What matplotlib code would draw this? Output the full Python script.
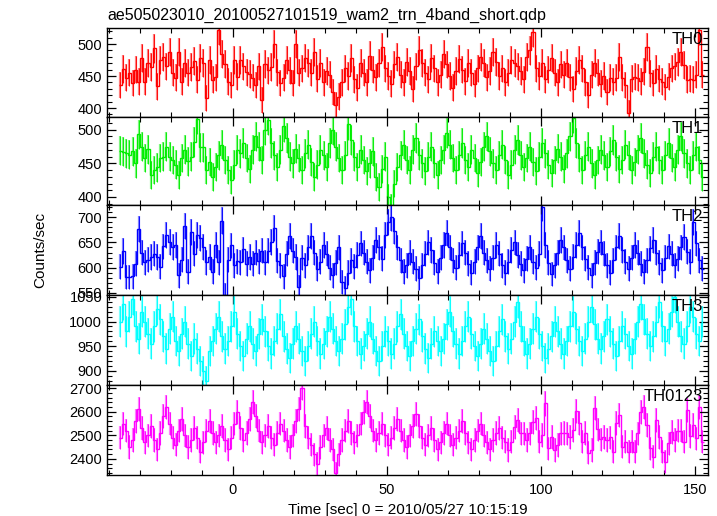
import numpy as np
import matplotlib
matplotlib.use("Agg")
import matplotlib.pyplot as plt
from matplotlib.ticker import MultipleLocator

plt.rcParams['font.family'] = ['Liberation Sans', 'DejaVu Sans']

title = "ae505023010_20100527101519_wam2_trn_4band_short.qdp"
xlabel = "Time [sec] 0 = 2010/05/27 10:15:19"
ylabel = "Counts/sec"
panel_names = ["TH0", "TH1", "TH2", "TH3", "TH0123"]
colors = ["#ff0000", "#00ee00", "#0000ff", "#00ffff", "#ff00ff"]

t_start = -36.5
bin_width = 1.0

th0 = [
    436, 461, 447, 455, 439, 460, 441, 478, 441, 470,
    464, 493, 434, 475, 480, 465, 488, 455, 447, 488,
    441, 470, 455, 464, 473, 444, 478, 470, 415, 475,
    444, 448, 522, 485, 469, 441, 436, 475, 449, 475,
    465, 456, 453, 447, 436, 465, 413, 469, 459, 464,
    500, 456, 439, 447, 475, 459, 439, 500, 455, 462,
    478, 470, 455, 488, 446, 470, 440, 458, 452, 425,
    405, 418, 440, 462, 450, 478, 445, 432, 470, 455,
    440, 482, 460, 448, 470, 495, 462, 450, 438, 468,
    480, 452, 440, 472, 458, 430, 465, 490, 470, 455,
    445, 478, 462, 440, 452, 485, 468, 450, 432, 458,
    476, 460, 442, 470, 455, 438, 462, 480, 470, 448,
    458, 488, 472, 450, 462, 440, 455, 475, 470, 465,
    458, 445, 480, 490, 518, 462, 450, 470, 445, 460,
    478, 455, 440, 468, 452, 470, 448, 430, 458, 475,
    462, 440, 420, 452, 470, 455, 438, 450,
    425, 447, 441, 447, 479, 447, 436, 392, 446, 449,
    447, 442, 457, 495, 454, 439, 461, 446, 441, 433,
    449, 462, 465, 472, 487, 467, 444, 446, 444, 452,
    522, 452,
]

th1 = [
    469, 467, 465, 463, 468, 450, 493, 475, 458, 471,
    433, 440, 444, 458, 460, 475, 460, 455, 448, 433,
    458, 470, 453, 460, 482, 516, 474, 474, 440,
    452, 430, 445, 462, 478, 455, 440, 425, 448, 470,
    465, 480, 458, 442, 470, 490, 475, 455, 500, 515,
    480, 462, 445, 470, 505, 488, 460, 450, 472, 458,
    440, 465, 478, 452, 430, 448, 470, 462, 445, 480,
    500, 475, 458, 440, 462, 508, 485, 460, 445, 470,
    455, 438, 450, 468, 430, 415, 442, 460, 400, 385,
    420, 445, 462, 478, 455, 440, 470, 488, 462, 450,
    438, 460, 475, 450, 432, 455, 470, 495, 478, 458,
    440, 462, 480, 455, 445, 470, 458, 436, 452, 475,
    490, 468, 450, 440, 462, 478, 455, 432, 448, 470,
    485, 462, 445, 458, 475, 452, 438, 460, 480, 465,
    448, 435, 455, 472, 460, 442, 465, 490, 518, 480,
    458, 440, 462, 475, 450, 432, 455, 470, 462, 445,
    468, 485, 460, 442, 455, 478, 462, 440, 452, 470,
    488, 465, 448, 435, 460, 475, 455, 440, 462, 480,
    458, 445, 470, 490, 465, 450, 440, 462, 475, 455,
    430,
]

th2 = [
    602, 633, 582, 582, 583, 608, 677, 630, 611, 616,
    621, 628, 621, 602, 642, 664, 651, 641, 645,
    585, 616, 683, 592, 670, 628, 664, 659, 641, 611,
    621, 592, 645, 611, 693, 546, 616, 644, 605, 613,
    611, 636, 608, 621, 608, 630, 613, 634, 611, 634,
    651, 679, 614, 605, 583, 628, 663, 634, 621, 562,
    620, 605, 640, 662, 630, 598, 612, 645, 628, 600,
    585, 610, 640, 572, 560, 590, 615, 602, 625, 648,
    630, 612, 595, 620, 655, 640, 618, 665, 690, 700,
    672, 640, 615, 592, 605, 630, 612, 598, 580, 605,
    628, 650, 635, 610, 592, 620, 645, 668, 640, 615,
    600, 625, 648, 630, 608, 590, 612, 640, 662, 630,
    615, 598, 620, 645, 628, 605, 590, 612, 635, 650,
    625, 608, 595, 618, 640, 612, 600, 628, 720, 645,
    610, 588, 605, 630, 655, 640, 615, 598, 622, 645,
    668, 640, 618, 600, 585, 610, 632, 650, 628, 605,
    590, 615, 640, 662, 635, 612, 598, 620, 645, 630,
    608, 592, 615, 638, 655, 630, 610, 595, 620, 642,
    628, 605, 618, 640, 660, 632, 612, 690, 648, 615,
    598,
]

th3 = [
    1000, 1035, 980, 1010, 1045, 990, 965, 1020, 1000, 975,
    955, 990, 1025, 1005, 970, 945, 985, 1010, 960, 940,
    975, 1000, 955, 930, 965, 945, 920, 900, 880, 940,
    960, 985, 1010, 970, 945, 960, 990, 1020, 975, 950,
    930, 965, 990, 955, 940, 975, 1005, 980, 950, 935,
    960, 985, 1015, 970, 945, 925, 955, 990, 965, 940,
    920, 950, 975, 1000, 960, 935, 955, 980, 1010, 985,
    960, 940, 965, 995, 1030, 1045, 990, 960, 935, 950,
    975, 1000, 965, 940, 920, 950, 980, 960, 935, 955,
    990, 1015, 975, 950, 930, 960, 985, 1005, 970, 945,
    925, 955, 980, 960, 940, 965, 995, 1020, 980, 955,
    935, 960, 990, 1010, 975, 950, 930, 955, 985, 965,
    940, 920, 950, 980, 1005, 970, 945, 965, 1000, 1040,
    990, 960, 935, 955, 985, 1010, 975, 950, 925, 945,
    970, 1000, 980, 955, 935, 960, 990, 1020, 985, 960,
    940, 965, 1000, 1030, 995, 965, 945, 970, 1005, 980,
    955, 930, 960, 990, 975, 950, 935, 965, 1000, 1035,
    1005, 975, 950, 970, 1000, 1040, 990, 960, 985, 1020,
    1050, 1000, 970, 955, 990, 1030, 1010, 975, 960, 1000,
]

th0123 = [
    2490, 2550, 2520, 2450, 2480, 2560, 2610, 2530, 2470, 2500,
    2540, 2480, 2440, 2510, 2580, 2620, 2550, 2490, 2460, 2520,
    2570, 2500, 2450, 2480, 2530, 2490, 2430, 2470, 2520, 2560,
    2510, 2470, 2500, 2540, 2480, 2440, 2490, 2550, 2600, 2530,
    2480, 2510, 2570, 2640, 2580, 2520, 2470, 2500, 2540, 2490,
    2460, 2510, 2550, 2520, 2480, 2450, 2500, 2560, 2610, 2700,
    2540, 2490, 2460, 2420, 2380, 2450, 2500, 2530, 2480, 2440,
    2340, 2420, 2480, 2520, 2560, 2510, 2470, 2500, 2550, 2600,
    2640, 2580, 2520, 2480, 2510, 2550, 2500, 2460, 2490, 2530,
    2570, 2520, 2480, 2450, 2500, 2540, 2590, 2540, 2490, 2460,
    2500, 2530, 2480, 2440, 2470, 2510, 2550, 2500, 2460, 2490,
    2520, 2560, 2510, 2470, 2440, 2480, 2520, 2550, 2500, 2470,
    2440, 2480, 2510, 2530, 2490,
    2473, 2438, 2473, 2536, 2565, 2508, 2508, 2480, 2508, 2557,
    2572, 2473, 2501, 2635, 2445, 2494, 2438, 2459, 2508, 2510,
    2508, 2494, 2522, 2604, 2551, 2473, 2510, 2427, 2438,
    2614, 2525, 2483, 2494, 2480, 2491, 2431, 2551, 2586, 2452,
    2473, 2431, 2473, 2431, 2508, 2597, 2621, 2543, 2445, 2410,
    2565, 2494, 2431, 2389, 2466, 2515, 2480, 2520, 2520, 2473,
    2607, 2497, 2543, 2487, 2621, 2473,
]

series = [th0, th1, th2, th3, th0123]
ylims = [(386, 525), (388, 519), (546, 724), (871, 1054), (2332, 2713)]
ymajor = [50, 50, 50, 50, 100]
yminor = [10, 10, 10, 10, 20]
xlim = (-40.8, 154.3)

W, H = 717, 516
fig = plt.figure(figsize=(W / 100, H / 100), dpi=100)
edges_px = [28, 117, 205, 295, 385, 475]
left_px, right_px = 107, 708

axes = []
for i, (vals, col) in enumerate(zip(series, colors)):
    top, bot = edges_px[i], edges_px[i + 1]
    ax = fig.add_axes([left_px / W, 1 - bot / H, (right_px - left_px) / W, (bot - top) / H])
    axes.append(ax)
    v = np.asarray(vals, dtype=float)
    t = t_start + bin_width * np.arange(len(v))
    err = np.sqrt(v * bin_width) / bin_width
    ax.vlines(t, v - err, v + err, color=col, lw=1.6, alpha=0.5)
    ax.vlines(t, v - err, v + err, color=col, lw=0.7, alpha=0.9)
    te = np.concatenate([[t[0] - bin_width / 2], t + bin_width / 2])
    ax.stairs(v, te, color=col, lw=1.0, baseline=None)
    ax.set_xlim(*xlim)
    ax.set_ylim(*ylims[i])
    ax.yaxis.set_major_locator(MultipleLocator(ymajor[i]))
    ax.yaxis.set_minor_locator(MultipleLocator(yminor[i]))
    ax.xaxis.set_major_locator(MultipleLocator(50))
    ax.xaxis.set_minor_locator(MultipleLocator(10))
    ax.tick_params(which='both', direction='in', top=True, right=True, colors='black', labelsize=10.5)
    ax.tick_params(which='major', length=6.5, width=0.9)
    ax.tick_params(which='minor', length=3.5, width=0.8)
    ax.tick_params(axis='x', which='major', pad=6)
    for s in ax.spines.values():
        s.set_linewidth(1.0)
    ax.text(0.992, 0.96, panel_names[i], transform=ax.transAxes, ha='right', va='top', fontsize=12)
    if i < 4:
        ax.tick_params(labelbottom=False)

axes[-1].set_xlabel(xlabel, fontsize=11, labelpad=4)
fig.text(left_px / W, 1 - 20 / H, title, ha='left', va='baseline', fontsize=11.5)
fig.text(40 / W, 1 - 250 / H, ylabel, rotation=90, ha='center', va='center', fontsize=11)

fig.savefig("out.png", dpi=100)
